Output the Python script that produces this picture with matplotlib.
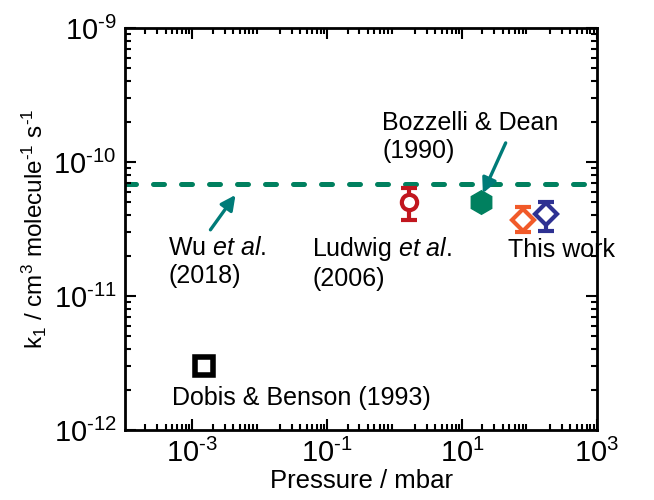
import numpy as np
import matplotlib.pyplot as plt
from matplotlib.ticker import FixedLocator, FuncFormatter

plt.rcParams['font.family'] = ['Liberation Sans', 'DejaVu Sans']
plt.rcParams['mathtext.fontset'] = 'custom'
plt.rcParams['mathtext.rm'] = 'Liberation Sans'
plt.rcParams['mathtext.it'] = 'Liberation Sans:italic'
plt.rcParams['mathtext.default'] = 'regular'

# Datos (presión en mbar, k1 en cm3 molecule-1 s-1)
wu_k = 6.9e-11                      # línea discontinua (Wu et al. 2018)

dobis_p, dobis_k = [1.5e-3], [3.0e-12]
ludwig_p, ludwig_k = [1.65], [5.0e-11]
ludwig_lo, ludwig_hi = [3.7e-11], [6.4e-11]
bozzelli_p, bozzelli_k = [19.0], [5.0e-11]
work1_p, work1_k = [80.0], [3.7e-11]
work1_lo, work1_hi = [3.0e-11], [4.6e-11]
work2_p, work2_k = [176.0], [4.1e-11]
work2_lo, work2_hi = [3.05e-11], [5.0e-11]

green = '#00805f'
teal = '#007b78'
red = '#c1161e'
orange = '#f15a29'
blue = '#2e3192'

W, H = 654, 500
fig = plt.figure(figsize=(W / 100, H / 100), dpi=100)
ax = fig.add_axes([125 / W, 1 - 430 / H, 472 / W, 402 / H])
ax.set_xscale('log')
ax.set_yscale('log')
ax.set_xlim(1e-4, 1e3)
ax.set_ylim(1e-12, 1e-9)

ax.axhline(wu_k, color=green, lw=3.6, ls=(0, (2.2, 3.4)), dash_capstyle='round', zorder=1)

ax.plot(dobis_p, dobis_k, 's', ms=13, mfc='white', mec='black', mew=4)

def errs(k, lo, hi):
    return [[k[0] - lo[0]], [hi[0] - k[0]]]

ax.errorbar(ludwig_p, ludwig_k, yerr=errs(ludwig_k, ludwig_lo, ludwig_hi), fmt='o',
            ms=11, mfc='white', mec=red, mew=3, ecolor=red, elinewidth=3,
            capsize=6, capthick=3, zorder=3)
ax.plot(bozzelli_p, bozzelli_k, 'h', ms=17, color=green, zorder=3)
ax.errorbar(work1_p, work1_k, yerr=errs(work1_k, work1_lo, work1_hi), fmt='D',
            ms=11, mfc='white', mec=orange, mew=3, ecolor=orange, elinewidth=3,
            capsize=6, capthick=3, zorder=3)
ax.errorbar(work2_p, work2_k, yerr=errs(work2_k, work2_lo, work2_hi), fmt='D',
            ms=11, mfc='white', mec=blue, mew=3, ecolor=blue, elinewidth=3,
            capsize=6, capthick=3, zorder=3)

# etiquetas (posición en píxeles de la figura)
def label(x, y, s, **kw):
    fig.text(x / W, 1 - y / H, s, fontsize=18, linespacing=1.2, **kw)

label(168, 262, 'Wu $\\mathit{et\\ al.}$\n(2018)', va='center')
label(312, 263, 'Ludwig $\\mathit{et\\ al.}$\n(2006)', va='center')
label(382, 137, 'Bozzelli & Dean\n(1990)', va='center')
label(508, 250, 'This work', va='center')
label(172, 398, 'Dobis & Benson (1993)', va='center')

ax.annotate('', xy=(4.6e-3, 5.9e-11), xytext=(1.75e-3, 3.0e-11),
            arrowprops=dict(arrowstyle='-|>', color=teal, lw=2.4, mutation_scale=22))
ax.annotate('', xy=(19.5, 5.6e-11), xytext=(46, 1.45e-10),
            arrowprops=dict(arrowstyle='-|>', color=teal, lw=2.4, mutation_scale=22))

ax.set_xlabel('Pressure / mbar', fontsize=18.5, labelpad=1)
ax.set_ylabel('k$_1$ / cm$^3$ molecule$^{\\text{-}1}$ s$^{\\text{-}1}$', fontsize=17.5, labelpad=3)

def fmt(v, pos):
    e = int(round(np.log10(v)))
    return '$10^{\\text{%d}}$' % e

ax.xaxis.set_major_locator(FixedLocator([1e-3, 1e-1, 1e1, 1e3]))
ax.yaxis.set_major_locator(FixedLocator([1e-12, 1e-11, 1e-10, 1e-9]))
ax.xaxis.set_major_formatter(FuncFormatter(fmt))
ax.yaxis.set_major_formatter(FuncFormatter(fmt))
ax.tick_params(which='both', direction='in', top=True, right=True, width=1.5)
ax.tick_params(which='major', length=8, labelsize=21, pad=6)
ax.tick_params(which='minor', length=4)
ax.xaxis.set_minor_locator(plt.LogLocator(base=10, subs=np.arange(2, 10), numticks=20))
ax.yaxis.set_minor_locator(plt.LogLocator(base=10, subs=np.arange(2, 10), numticks=20))
for s in ax.spines.values():
    s.set_linewidth(2)

fig.savefig('out.png', dpi=100)
